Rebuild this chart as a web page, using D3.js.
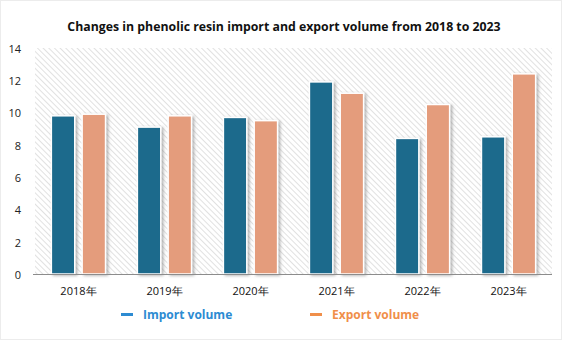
<!DOCTYPE html>
<html><head><meta charset="utf-8">
<script src="https://cdn.jsdelivr.net/npm/d3@7"></script>
<style>
html,body{margin:0;padding:0;background:#fff;}
svg{display:block;}
</style></head>
<body>
<svg id="c" width="569" height="340"></svg>
<script>
const categories = ["2018年","2019年","2020年","2021年","2022年","2023年"];
const importVolume = [9.8, 9.1, 9.7, 11.9, 8.4, 8.5];
const exportVolume = [9.9, 9.8, 9.5, 11.2, 10.5, 12.4];
const yTicks = [0,2,4,6,8,10,12,14];
const seriesNames = ["Import volume","Export volume"];
const title = "Changes in phenolic resin import and export volume from 2018 to 2023";

const svg = d3.select("#c");
const W = 569, H = 340;
const m = {left:35, right:552, top:48, bottom:274};
const font = "'Open Sans', 'Noto Sans', sans-serif";

const defs = svg.append("defs");
const pat = defs.append("pattern").attr("id","hatch").attr("patternUnits","userSpaceOnUse")
  .attr("width",4).attr("height",4).attr("patternTransform","rotate(-45)");
pat.append("rect").attr("width",4).attr("height",4).attr("fill","#fff");
pat.append("line").attr("x1",0).attr("y1",0).attr("x2",0).attr("y2",4)
  .attr("stroke","#d4d4d4").attr("stroke-width",1.4);
const f = defs.append("filter").attr("id","sh").attr("x","-30%").attr("y","-10%").attr("width","160%").attr("height","130%");
f.append("feDropShadow").attr("dx",2).attr("dy",1).attr("stdDeviation",1.6).attr("flood-color","#777").attr("flood-opacity",0.55);

// card
svg.append("rect").attr("x",0.5).attr("y",0.5).attr("width",W-8).attr("height",H-1)
  .attr("fill","#fff").attr("stroke","#ececec");

svg.append("text").attr("x",284).attr("y",31).attr("text-anchor","middle")
  .attr("font-family",font).attr("font-weight","bold").attr("font-size",12.3)
  .attr("fill","#111").text(title);

const x0 = d3.scaleBand().domain(categories).range([m.left,m.right]).paddingInner(0.37).paddingOuter(0.19);
const x1 = d3.scaleBand().domain(seriesNames).range([0,x0.bandwidth()]).paddingInner(0.24);
const y = d3.scaleLinear().domain([0,14]).range([m.bottom,m.top]);

svg.append("rect").attr("x",m.left).attr("y",m.top).attr("width",m.right-m.left).attr("height",m.bottom-m.top)
  .attr("fill","url(#hatch)");

const yAxis = d3.axisLeft(y).tickValues(yTicks).tickSize(0).tickPadding(0);
const gy = svg.append("g").attr("transform",`translate(21,0)`).call(yAxis);
gy.select(".domain").remove();
gy.selectAll("text").attr("font-family",font).attr("font-size",11).attr("fill","#222").attr("dy","0.4em");

const colors = {"Import volume":"#1e6a8c","Export volume":"#e49c7c"};
const data = categories.map((c,i)=>({c, v:[{k:seriesNames[0],val:importVolume[i]},{k:seriesNames[1],val:exportVolume[i]}]}));
const g = svg.append("g");
data.forEach(d=>{
  d.v.forEach(s=>{
    g.append("rect").attr("x",x0(d.c)+x1(s.k)).attr("y",y(s.val))
      .attr("width",x1.bandwidth()).attr("height",y(0)-y(s.val))
      .attr("fill",colors[s.k]).attr("stroke","#fff").attr("stroke-width",1.5)
      .attr("filter","url(#sh)");
  });
});

svg.append("line").attr("x1",33).attr("x2",m.right).attr("y1",m.bottom+0.5).attr("y2",m.bottom+0.5)
  .attr("stroke","#8c8c8c").attr("stroke-width",1);

const xAxis = d3.axisBottom(x0).tickSize(0).tickPadding(0);
const gx = svg.append("g").attr("transform",`translate(0,${m.bottom+13})`).call(xAxis);
gx.select(".domain").remove();
gx.selectAll("text").attr("font-family",font).attr("font-size",11).attr("fill","#111").attr("dy","0.71em");

const legendColors = {"Import volume":"#2d8bd2","Export volume":"#f08f4a"};
const lx = [121, 310];
seriesNames.forEach((s,i)=>{
  svg.append("line").attr("x1",lx[i]).attr("x2",lx[i]+12).attr("y1",314.5).attr("y2",314.5)
    .attr("stroke",legendColors[s]).attr("stroke-width",3);
  svg.append("text").attr("x",lx[i]+22).attr("y",318.5).attr("font-family",font).attr("font-weight","bold")
    .attr("font-size",12).attr("fill",legendColors[s]).text(s);
});
</script>
</body></html>
